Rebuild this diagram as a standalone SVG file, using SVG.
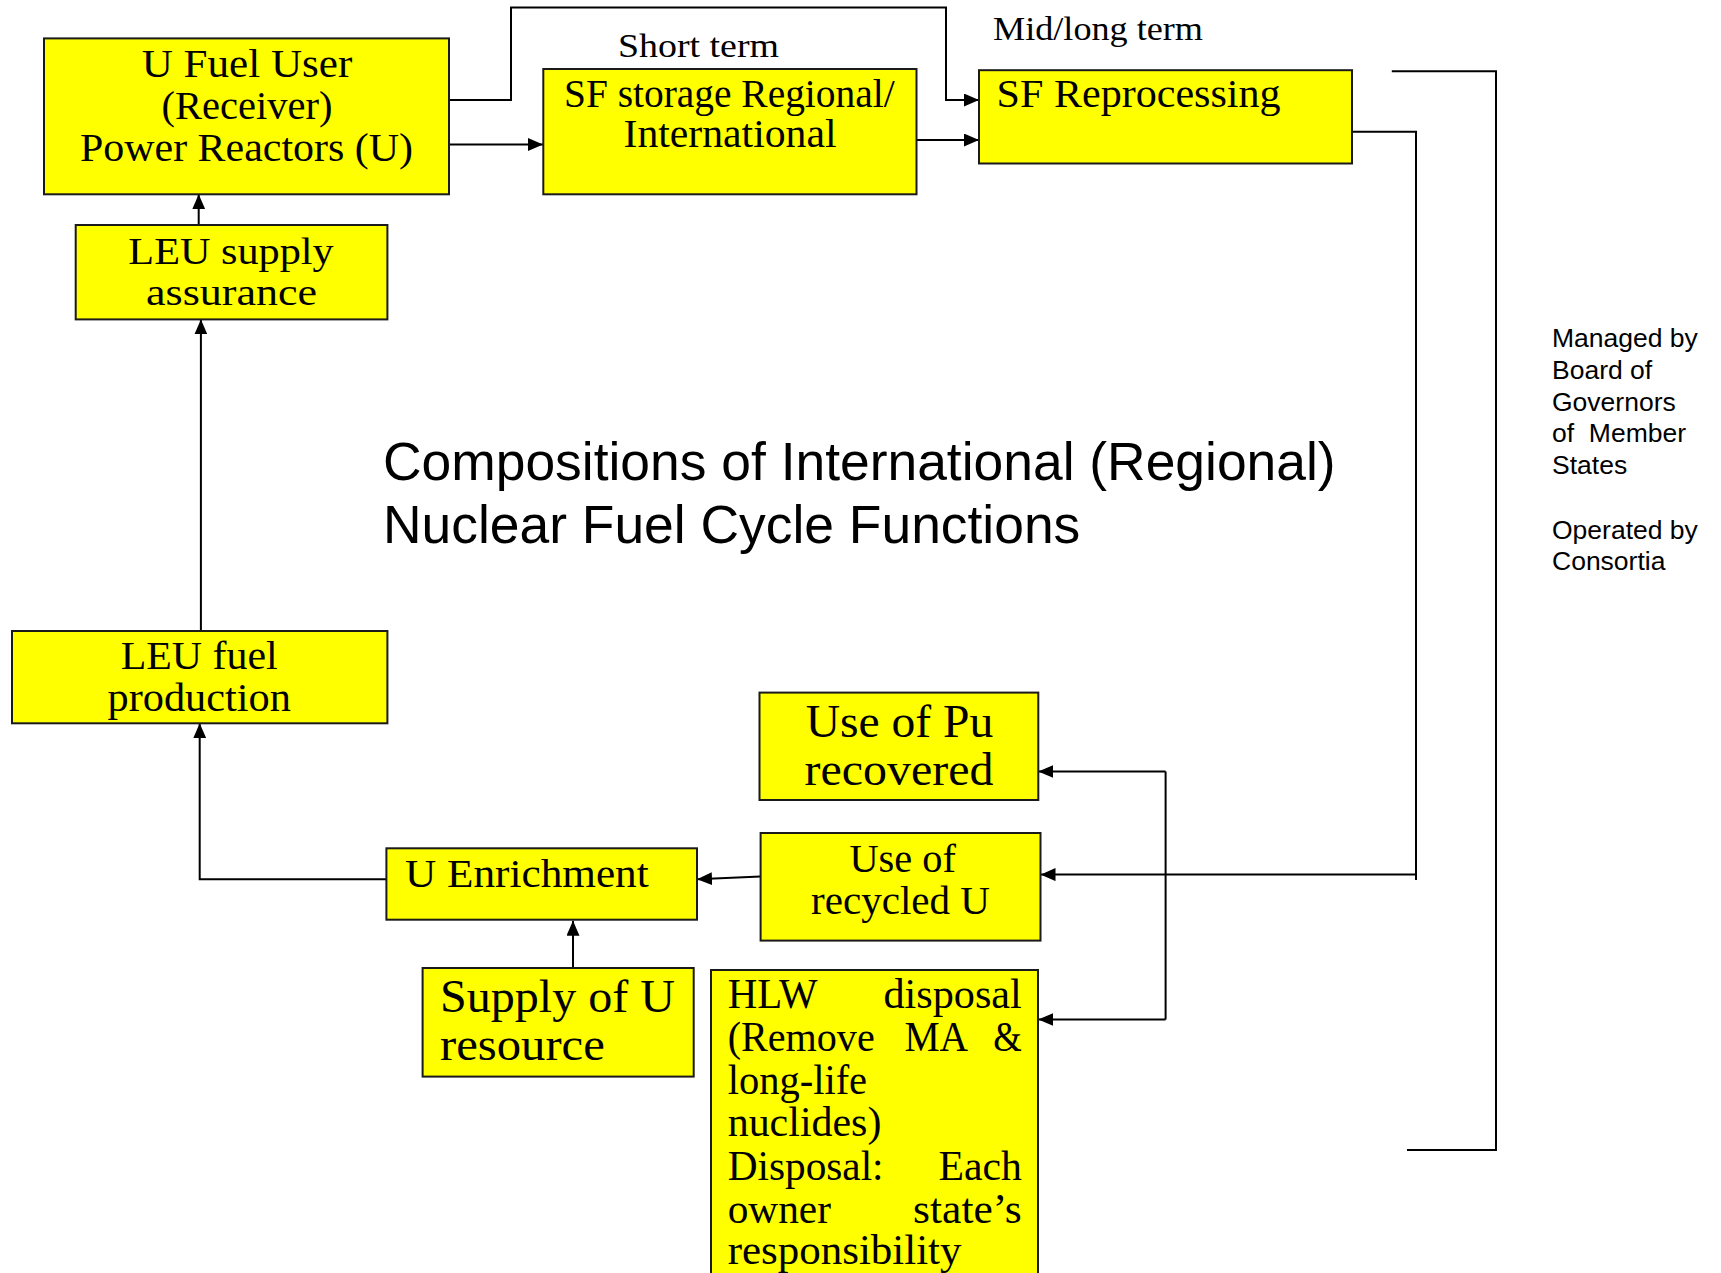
<svg xmlns="http://www.w3.org/2000/svg" width="1721" height="1273" viewBox="0 0 1721 1273">
<style>
.box{fill:#ffff00;stroke:#1a1a1a;stroke-width:2}
.t{font-family:"Liberation Serif","Times New Roman",serif;fill:#000}
.c{text-anchor:middle}
.e{text-anchor:end}
.s{font-family:"Liberation Sans",Arial,sans-serif;fill:#000}
.ln{fill:none;stroke:#000;stroke-width:2}
.ar{fill:none;stroke:#000;stroke-width:2;marker-end:url(#ah)}
</style>
<defs>
<marker id="ah" markerUnits="userSpaceOnUse" markerWidth="15" markerHeight="13" refX="15" refY="6.5" orient="auto">
<path d="M0,0 L15,6.5 L0,13 z" fill="#000"/>
</marker>
</defs>
<rect width="1721" height="1273" fill="#fff"/>

<g id="connectors">
<path class="ar" d="M449,100 H511 V7.5 H946 V100 H979"/>
<path class="ar" d="M449,144.5 H543"/>
<path class="ar" d="M916.5,140 H979"/>
<path class="ln" d="M1352,131.7 H1416 V880"/>
<path class="ar" d="M1416,874.6 H1040.5"/>
<path class="ln" d="M1165.6,771.5 V1019.5"/>
<path class="ar" d="M1165.6,771.5 H1038.3"/>
<path class="ar" d="M1165.6,1019.5 H1038.3"/>
<path class="ar" d="M760.6,876.6 L697,879.3"/>
<path class="ar" d="M386.4,879.3 H199.7 V723.3"/>
<path class="ar" d="M573,968 V920.7"/>
<path class="ar" d="M200.9,631 V319.4"/>
<path class="ar" d="M198.7,225 V194.3"/>
<path class="ln" d="M1391.8,71.3 H1496 V1150 H1407"/>
</g>

<g id="label-short-term"><text class="t" x="618" y="56.7" font-size="33" textLength="161" lengthAdjust="spacingAndGlyphs">Short term</text></g>
<g id="label-mid-long-term"><text class="t" x="993" y="40" font-size="33" textLength="210" lengthAdjust="spacingAndGlyphs">Mid/long term</text></g>

<g id="node-u-fuel-user">
<rect class="box" x="44" y="38.4" width="405" height="155.9"/>
<text class="t c" x="247" y="77" font-size="40" textLength="210.7" lengthAdjust="spacingAndGlyphs">U Fuel User</text>
<text class="t c" x="247" y="118.5" font-size="40" textLength="171" lengthAdjust="spacingAndGlyphs">(Receiver)</text>
<text class="t c" x="246.5" y="161" font-size="40" textLength="333" lengthAdjust="spacingAndGlyphs">Power Reactors (U)</text>
</g>

<g id="node-sf-storage">
<rect class="box" x="543.3" y="69" width="373.2" height="125.3"/>
<text class="t c" x="729.3" y="106.7" font-size="39" textLength="330.6" lengthAdjust="spacingAndGlyphs">SF storage Regional/</text>
<text class="t c" x="730" y="146.7" font-size="39" textLength="213" lengthAdjust="spacingAndGlyphs">International</text>
</g>

<g id="node-sf-reprocessing">
<rect class="box" x="979" y="70.2" width="373" height="93.3"/>
<text class="t" x="996.6" y="106.7" font-size="40" textLength="284" lengthAdjust="spacingAndGlyphs">SF Reprocessing</text>
</g>

<g id="node-leu-supply">
<rect class="box" x="75.7" y="225" width="311.7" height="94.4"/>
<text class="t c" x="231" y="264" font-size="37" textLength="205.3" lengthAdjust="spacingAndGlyphs">LEU supply</text>
<text class="t c" x="231.5" y="305" font-size="37" textLength="171" lengthAdjust="spacingAndGlyphs">assurance</text>
</g>

<g id="title">
<text class="s" x="383" y="479.6" font-size="53.4">Compositions of International (Regional)</text>
<text class="s" x="383" y="543.3" font-size="53.4">Nuclear Fuel Cycle Functions</text>
</g>

<g id="label-management">
<text class="s" x="1552" y="346.8" font-size="26.5">Managed by</text>
<text class="s" x="1552" y="378.7" font-size="26.5">Board of</text>
<text class="s" x="1552" y="410.5" font-size="26.5">Governors</text>
<text class="s" x="1552" y="442.3" font-size="26.5" style="white-space:pre">of  Member</text>
<text class="s" x="1552" y="474.1" font-size="26.5">States</text>
<text class="s" x="1552" y="539" font-size="26.5">Operated by</text>
<text class="s" x="1552" y="569.6" font-size="26.5">Consortia</text>
</g>

<g id="node-leu-fuel-production">
<rect class="box" x="12" y="631" width="375.4" height="92.3"/>
<text class="t c" x="199.2" y="669" font-size="40" textLength="157" lengthAdjust="spacingAndGlyphs">LEU fuel</text>
<text class="t c" x="199.2" y="711" font-size="40" textLength="183.3" lengthAdjust="spacingAndGlyphs">production</text>
</g>

<g id="node-use-of-pu">
<rect class="box" x="759.5" y="692.6" width="278.8" height="107.4"/>
<text class="t c" x="899.5" y="736.5" font-size="47" textLength="187.7" lengthAdjust="spacingAndGlyphs">Use of Pu</text>
<text class="t c" x="899" y="785" font-size="47" textLength="188.8" lengthAdjust="spacingAndGlyphs">recovered</text>
</g>

<g id="node-use-of-recycled-u">
<rect class="box" x="760.6" y="833" width="279.9" height="107.6"/>
<text class="t c" x="902.7" y="871.5" font-size="41" textLength="106.5" lengthAdjust="spacingAndGlyphs">Use of</text>
<text class="t c" x="900.5" y="914" font-size="41" textLength="179" lengthAdjust="spacingAndGlyphs">recycled U</text>
</g>

<g id="node-u-enrichment">
<rect class="box" x="386.4" y="848.3" width="310.6" height="71.4"/>
<text class="t" x="405" y="887" font-size="40" textLength="243.7" lengthAdjust="spacingAndGlyphs">U Enrichment</text>
</g>

<g id="node-supply-of-u">
<rect class="box" x="422.6" y="968" width="271.1" height="108.6"/>
<text class="t" x="440" y="1012" font-size="47" textLength="235" lengthAdjust="spacingAndGlyphs">Supply of U</text>
<text class="t" x="440" y="1060" font-size="47" textLength="164.8" lengthAdjust="spacingAndGlyphs">resource</text>
</g>

<g id="node-hlw-disposal">
<rect class="box" x="711" y="970" width="327" height="320"/>
<text class="t" x="727.7" y="1007.5" font-size="42" textLength="90" lengthAdjust="spacingAndGlyphs">HLW</text>
<text class="t e" x="1021.8" y="1007.5" font-size="42" textLength="138.3" lengthAdjust="spacingAndGlyphs">disposal</text>
<text class="t" x="727.7" y="1050.5" font-size="42" textLength="147" lengthAdjust="spacingAndGlyphs">(Remove</text>
<text class="t" x="904.4" y="1050.5" font-size="42" textLength="63.7" lengthAdjust="spacingAndGlyphs">MA</text>
<text class="t e" x="1021.8" y="1050.5" font-size="42" textLength="28.5" lengthAdjust="spacingAndGlyphs">&amp;</text>
<text class="t" x="727.7" y="1094" font-size="42" textLength="139.4" lengthAdjust="spacingAndGlyphs">long-life</text>
<text class="t" x="727.7" y="1136" font-size="42" textLength="153.7" lengthAdjust="spacingAndGlyphs">nuclides)</text>
<text class="t" x="727.7" y="1180" font-size="42" textLength="155.9" lengthAdjust="spacingAndGlyphs">Disposal:</text>
<text class="t e" x="1021.8" y="1180" font-size="42" textLength="83.4" lengthAdjust="spacingAndGlyphs">Each</text>
<text class="t" x="727.7" y="1222.5" font-size="42" textLength="103.2" lengthAdjust="spacingAndGlyphs">owner</text>
<text class="t e" x="1021.8" y="1222.5" font-size="42" textLength="108.7" lengthAdjust="spacingAndGlyphs">state’s</text>
<text class="t" x="727.7" y="1264" font-size="42" textLength="233.8" lengthAdjust="spacingAndGlyphs">responsibility</text>
</g>
</svg>
